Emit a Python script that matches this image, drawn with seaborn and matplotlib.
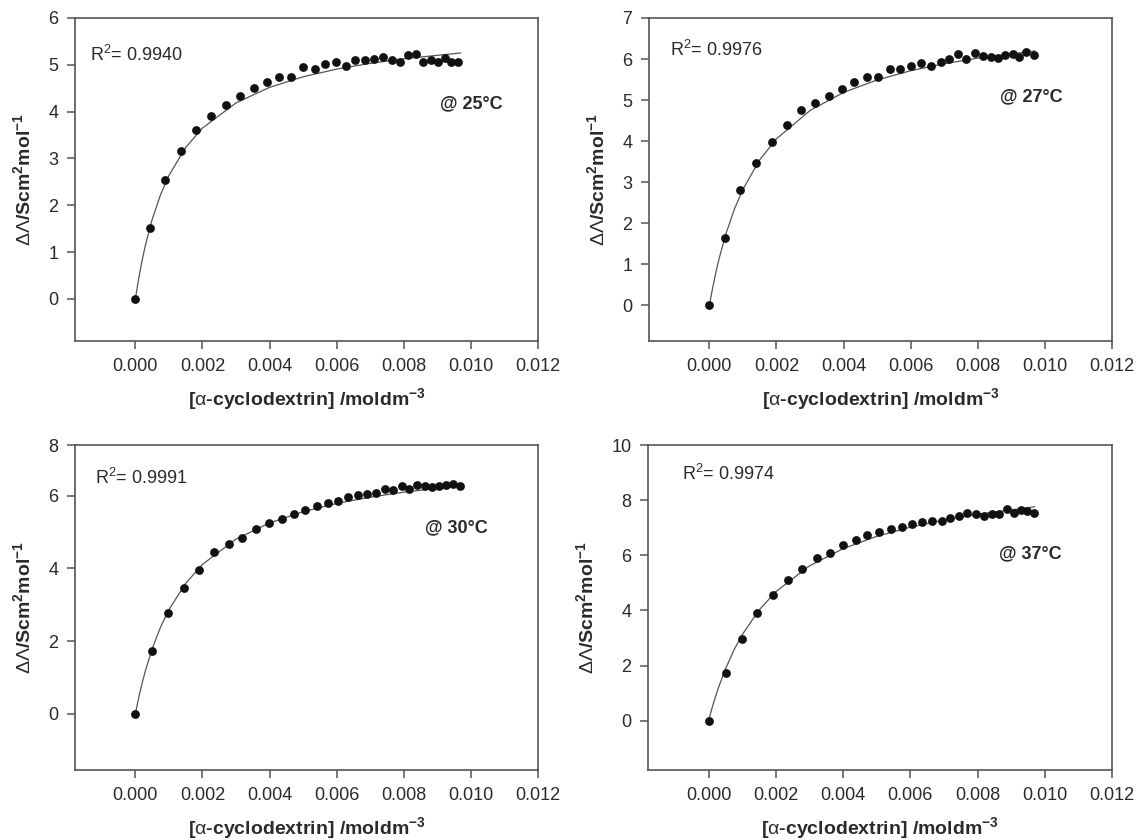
import numpy as np
import pandas as pd
import matplotlib
matplotlib.use("Agg")
import matplotlib.pyplot as plt
from matplotlib.ticker import FormatStrFormatter
import seaborn as sns

# ---------------- data ----------------
temps = ["25", "27", "30", "37"]
r2_values = ["0.9940", "0.9976", "0.9991", "0.9974"]

x25 = [0.0, 0.000427, 0.000893, 0.00137, 0.00182, 0.00226, 0.00270, 0.00312, 0.00353, 0.00392,
       0.00429, 0.00464, 0.00501, 0.00534, 0.00566, 0.00597, 0.00628, 0.00656, 0.00684, 0.00711,
       0.00737, 0.00764, 0.00789, 0.00812, 0.00835, 0.00858, 0.00880, 0.00901, 0.00922, 0.00941, 0.00961]
y25 = [0.0, 1.51, 2.54, 3.15, 3.60, 3.90, 4.14, 4.33, 4.51, 4.64,
       4.75, 4.75, 4.95, 4.90, 5.02, 5.05, 4.97, 5.10, 5.11, 5.13,
       5.17, 5.11, 5.06, 5.20, 5.23, 5.07, 5.11, 5.05, 5.14, 5.07, 5.07]

x27 = [0.0, 0.000457, 0.000924, 0.00139, 0.00186, 0.00231, 0.00273, 0.00316, 0.00356, 0.00394,
       0.00432, 0.00469, 0.00503, 0.00538, 0.00569, 0.00600, 0.00631, 0.00660, 0.00689, 0.00715,
       0.00741, 0.00766, 0.00791, 0.00815, 0.00838, 0.00860, 0.00882, 0.00904, 0.00924, 0.00945, 0.00967]
y27 = [0.0, 1.64, 2.81, 3.46, 3.97, 4.40, 4.75, 4.92, 5.10, 5.26,
       5.44, 5.57, 5.56, 5.76, 5.76, 5.83, 5.91, 5.83, 5.93, 6.01,
       6.13, 6.01, 6.14, 6.07, 6.04, 6.03, 6.10, 6.13, 6.06, 6.17, 6.10]

x30 = [0.0, 0.000496, 0.000962, 0.00144, 0.00190, 0.00234, 0.00278, 0.00319, 0.00360, 0.00399,
       0.00437, 0.00472, 0.00507, 0.00541, 0.00573, 0.00603, 0.00635, 0.00663, 0.00691, 0.00717,
       0.00744, 0.00769, 0.00794, 0.00817, 0.00840, 0.00863, 0.00885, 0.00906, 0.00926, 0.00946, 0.00967]
y30 = [0.0, 1.74, 2.77, 3.47, 3.97, 4.45, 4.68, 4.85, 5.10, 5.25,
       5.36, 5.50, 5.61, 5.71, 5.79, 5.86, 5.98, 6.02, 6.06, 6.09,
       6.18, 6.17, 6.26, 6.19, 6.30, 6.26, 6.24, 6.26, 6.29, 6.33, 6.27]

x37 = [0.0, 0.000507, 0.000984, 0.00144, 0.00192, 0.00236, 0.00279, 0.00321, 0.00362, 0.00399,
       0.00437, 0.00472, 0.00507, 0.00542, 0.00574, 0.00605, 0.00635, 0.00665, 0.00693, 0.00719,
       0.00745, 0.00770, 0.00795, 0.00820, 0.00843, 0.00865, 0.00887, 0.00908, 0.00928, 0.00948, 0.00969]
y37 = [0.0, 1.74, 2.98, 3.89, 4.56, 5.12, 5.50, 5.90, 6.08, 6.36,
       6.57, 6.73, 6.86, 6.95, 7.01, 7.14, 7.19, 7.25, 7.23, 7.36,
       7.43, 7.55, 7.50, 7.44, 7.50, 7.50, 7.67, 7.54, 7.64, 7.59, 7.52]

# fitted curves
fit_x = [0.0, 0.0001, 0.0002, 0.0003, 0.0005, 0.00075, 0.001, 0.0015, 0.002, 0.003,
         0.004, 0.005, 0.006, 0.007, 0.008, 0.0097]
fit25 = [0.0, 0.439, 0.818, 1.148, 1.694, 2.224, 2.636, 3.235, 3.649, 4.186,
         4.518, 4.744, 4.908, 5.031, 5.129, 5.253]
fit27 = [0.0, 0.438, 0.826, 1.172, 1.761, 2.353, 2.828, 3.545, 4.058, 4.746,
         5.186, 5.491, 5.715, 5.886, 6.022, 6.197]
fit30 = [0.0, 0.444, 0.837, 1.187, 1.785, 2.385, 2.866, 3.592, 4.113, 4.810,
         5.255, 5.564, 5.791, 5.965, 6.102, 6.280]
fit37 = [0.0, 0.446, 0.851, 1.221, 1.872, 2.553, 3.120, 4.011, 4.680, 5.616,
         6.240, 6.686, 7.020, 7.280, 7.488, 7.760]

x_ticks = [0.000, 0.002, 0.004, 0.006, 0.008, 0.010, 0.012]

# ---------------- style ----------------
sns.set_theme(style="ticks")
plt.rcParams["font.family"] = ["Liberation Sans", "DejaVu Sans"]
plt.rcParams["mathtext.fontset"] = "custom"
plt.rcParams["mathtext.rm"] = "Liberation Sans"
plt.rcParams["mathtext.it"] = "Liberation Sans"
plt.rcParams["mathtext.bf"] = "Liberation Sans:bold"

spine_col = "#555555"
text_col = "#2a2a2a"

fig = plt.figure(figsize=(11.41, 8.4), dpi=100)

panels = [
    dict(x=x25, y=y25, fit=fit25, t=temps[0], r2=r2_values[0],
         rect=[0.0657, 0.594, 0.4058, 0.3846], ylim=(-0.9, 6.0),
         yticks=[0, 1, 2, 3, 4, 5, 6], ylabels=None,
         r2pos=(0.032, 0.885), tpos=(0.855, 0.735)),
    dict(x=x27, y=y27, fit=fit27, t=temps[1], r2=r2_values[1],
         rect=[0.5688, 0.594, 0.4058, 0.3846], ylim=(-0.87, 7.0),
         yticks=[0, 1, 2, 3, 4, 5, 6, 7], ylabels=None,
         r2pos=(0.045, 0.9), tpos=(0.825, 0.756)),
    dict(x=x30, y=y30, fit=fit30, t=temps[2], r2=r2_values[2],
         rect=[0.0657, 0.0833, 0.4058, 0.3869], ylim=(-1.55, 7.4),
         yticks=[0, 2, 4, 6, 7.4], ylabels=["0", "2", "4", "6", "8"],
         r2pos=(0.043, 0.9), tpos=(0.823, 0.745)),
    dict(x=x37, y=y37, fit=fit37, t=temps[3], r2=r2_values[3],
         rect=[0.568, 0.0833, 0.4066, 0.3869], ylim=(-1.79, 10.0),
         yticks=[0, 2, 4, 6, 8, 10], ylabels=None,
         r2pos=(0.073, 0.91), tpos=(0.823, 0.665)),
]

xlabel = r"[$\mathrm{\alpha}$-cyclodextrin] /moldm$^{\mathbf{-3}}$"
ylabel = r"$\mathrm{\Delta\Lambda}$/Scm$^{\mathbf{2}}$mol$^{\mathbf{-1}}$"

for p in panels:
    ax = fig.add_axes(p["rect"])
    sns.lineplot(x=fit_x, y=p["fit"], ax=ax, color="#555555", linewidth=0.9,
                 sort=False, estimator=None, legend=False)
    sns.scatterplot(x=p["x"], y=p["y"], ax=ax, color="#111111", s=40,
                    edgecolor="#111111", linewidth=0, zorder=3, legend=False)
    ax.set_xlim(-0.0018, 0.012)
    ax.set_ylim(*p["ylim"])
    ax.set_xticks(x_ticks)
    ax.xaxis.set_major_formatter(FormatStrFormatter("%.3f"))
    if p["ylabels"] is None:
        ax.set_yticks(p["yticks"])
    else:
        ax.set_yticks(p["yticks"], labels=p["ylabels"])
    for s in ax.spines.values():
        s.set_color(spine_col)
        s.set_linewidth(1.2)
    ax.tick_params(axis="both", direction="out", length=6, width=1.1,
                   color=spine_col, labelsize=13, labelcolor=text_col, pad=6)
    ax.set_xlabel(xlabel, fontsize=14, fontweight="bold", color=text_col, labelpad=8)
    ax.set_ylabel(ylabel, fontsize=14, fontweight="bold", color=text_col, labelpad=10)
    ax.text(p["r2pos"][0], p["r2pos"][1], "R$^2$= " + p["r2"], transform=ax.transAxes,
            fontsize=13, color=text_col, ha="left", va="center")
    ax.text(p["tpos"][0], p["tpos"][1], "@ " + p["t"] + "°C", transform=ax.transAxes,
            fontsize=13, fontweight="bold", color=text_col, ha="center", va="center")

fig.savefig("out.png", dpi=100)
